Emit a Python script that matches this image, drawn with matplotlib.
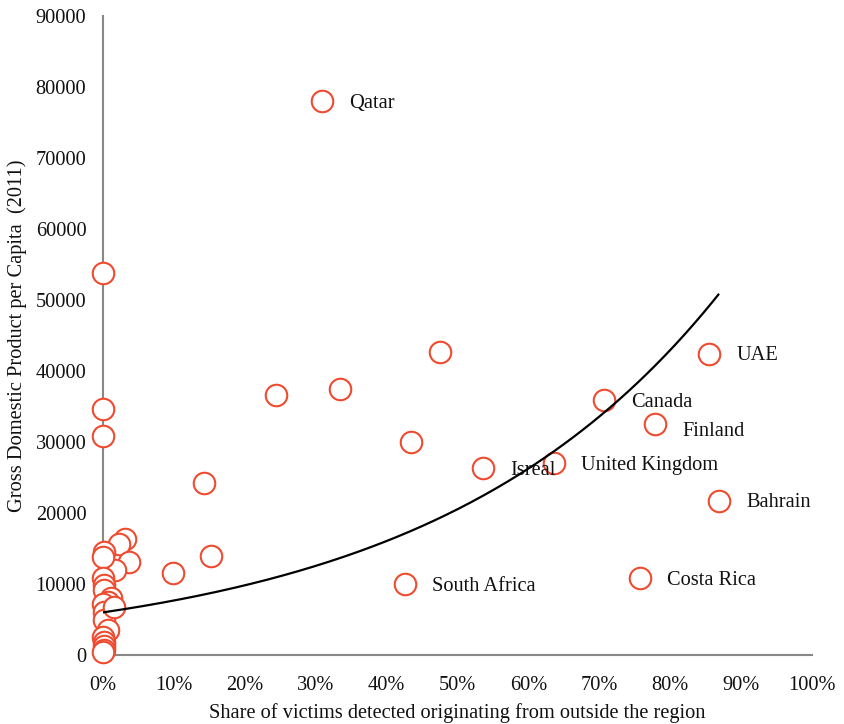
import numpy as np
from matplotlib import pyplot as plt

plt.rcParams['font.family'] = ['Liberation Serif', 'DejaVu Serif']

# share of victims from outside region (fraction), GDP per capita 2011
share = [0.309, 0.0, 0.0, 0.0, 0.244, 0.334, 0.475, 0.434, 0.536, 0.636,
         0.707, 0.779, 0.855, 0.869, 0.757, 0.426, 0.142, 0.152, 0.099,
         0.031, 0.022, 0.037, 0.017, 0.001, 0.0, 0.0, 0.002, 0.001, 0.012,
         0.007, 0.0, 0.002, 0.002, 0.007, 0.0, 0.002, 0.002, 0.002, 0.0,
         0.016]
gdp = [78000, 53800, 34700, 30800, 36600, 37500, 42700, 30000, 26300, 27000,
       35900, 32500, 42400, 21700, 10800, 10000, 24200, 13900, 11500,
       16400, 15700, 13100, 12000, 14500, 13800, 10800, 9900, 9200, 8000,
       7500, 7200, 6100, 4900, 3500, 2600, 1900, 1200, 700, 400,
       6800]

labels = {0: 'Qatar', 12: 'UAE', 10: 'Canada', 11: 'Finland',
          9: 'United Kingdom', 8: 'Isreal', 13: 'Bahrain',
          14: 'Costa Rica', 15: 'South Africa'}
label_dy = {11: -7}

# exponential trendline y = a * exp(b * x)
trend_a = 6000
trend_b = 2.46
trend_end = 0.868

fig = plt.figure(figsize=(8.44, 7.24), dpi=100)
ax = fig.add_axes([0.122, 0.0953, 0.840, 0.8826])

red = '#F04A2F'
ax.scatter(share, gdp, s=240, facecolors='white', edgecolors=red,
           linewidths=1.5, clip_on=False, zorder=3)

xs = np.linspace(0, trend_end, 200)
ax.plot(xs, trend_a * np.exp(trend_b * xs), color='black', lw=1.6, zorder=4)

for i, name in labels.items():
    ax.annotate(name, (share[i], gdp[i]), xytext=(27, label_dy.get(i, -2)),
                textcoords='offset pixels', va='center', ha='left',
                fontsize=14.7, color='#111111')

ax.set_xlim(0, 1.0)
ax.set_ylim(0, 90000)
ax.set_xticks(np.arange(0, 1.01, 0.1))
ax.set_xticklabels(['%d%%' % v for v in range(0, 101, 10)])
ax.set_yticks(range(0, 90001, 10000))
ax.tick_params(length=0, labelsize=14.7, colors='#111111')
ax.tick_params(axis='x', pad=15)
ax.tick_params(axis='y', pad=12)
for s in ['top', 'right']:
    ax.spines[s].set_visible(False)
for s in ['left', 'bottom']:
    ax.spines[s].set_color('#888888')
    ax.spines[s].set_linewidth(1.5)

ax.set_xlabel('Share of victims detected originating from outside the region',
              fontsize=14.7, labelpad=6, color='#111111')
ax.set_ylabel('Gross Domestic Product per Capita  (2011)', fontsize=14.7,
              labelpad=6, color='#111111')

plt.savefig('out.png', dpi=100)
